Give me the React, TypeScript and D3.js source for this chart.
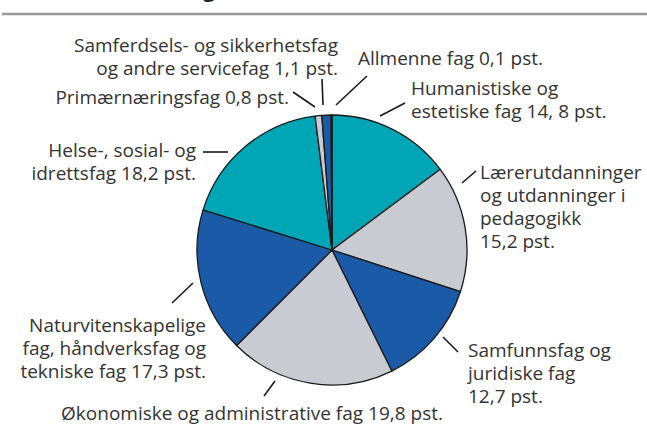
import React from "react";
import * as d3 from "d3";

const categories = [
  "Humanistiske og estetiske fag",
  "Lærerutdanninger og utdanninger i pedagogikk",
  "Samfunnsfag og juridiske fag",
  "Økonomiske og administrative fag",
  "Naturvitenskapelige fag, håndverksfag og tekniske fag",
  "Helse-, sosial- og idrettsfag",
  "Primærnæringsfag",
  "Samferdsels- og sikkerhetsfag og andre servicefag",
  "Allmenne fag",
];
const values = [14.8, 15.2, 12.7, 19.8, 17.3, 18.2, 0.8, 1.1, 0.1];
const colorKeys = ["teal", "grey", "blue", "grey", "blue", "teal", "grey", "blue", "teal"];
const labelLines = [
  ["Humanistiske og", "estetiske fag 14, 8 pst."],
  ["Lærerutdanninger", "og utdanninger i", "pedagogikk", "15,2 pst."],
  ["Samfunnsfag og", "juridiske fag", "12,7 pst."],
  ["Økonomiske og administrative fag 19,8 pst."],
  ["Naturvitenskapelige", "fag, håndverksfag og", "tekniske fag 17,3 pst."],
  ["Helse-, sosial- og", "idrettsfag 18,2 pst."],
  ["Primærnæringsfag 0,8 pst."],
  ["Samferdsels- og sikkerhetsfag", "og andre servicefag 1,1 pst."],
  ["Allmenne fag 0,1 pst."],
];

const palette: Record<string, string> = {
  teal: "#00a6b6",
  grey: "#c9cbd2",
  blue: "#1a5aa6",
};

// layout: label anchor (x, baseline y, anchor) and leader line endpoints
const labelLayout: { x: number; y: number; anchor: "start" | "end" | "middle" }[] = [
  { x: 411, y: 95, anchor: "start" },
  { x: 480, y: 179, anchor: "start" },
  { x: 468, y: 357, anchor: "start" },
  { x: 252, y: 420, anchor: "middle" },
  { x: 206, y: 332, anchor: "end" },
  { x: 196, y: 157, anchor: "end" },
  { x: 289, y: 104, anchor: "end" },
  { x: 338, y: 52, anchor: "end" },
  { x: 358, y: 65, anchor: "start" },
];
const leaders: [number, number, number, number][] = [
  [380, 116, 405, 103],
  [462, 183, 476, 171],
  [443, 337, 458, 352],
  [275, 381, 264, 396],
  [193, 283, 172, 303],
  [203, 152, 228, 152],
  [293, 92, 315, 107],
  [322, 79, 323, 105],
  [367, 76, 336, 105],
];

const W = 647;
const H = 432;
const cx = 332;
const cy = 250;
const R = 135;
const lineH = 23;
const font = "'Open Sans', 'Noto Sans', sans-serif";

export default function App() {
  const pie = d3.pie<number>().sort(null).value((d) => d)(values);
  const arc = d3.arc<d3.PieArcDatum<number>>().innerRadius(0).outerRadius(R);
  return (
    <svg
      width={W}
      height={H}
      style={{ position: "absolute", left: 0, top: 0, background: "#fff" }}
      fontFamily={font}
    >
      <text x={8} y={-3} fontSize={21} fontWeight="bold" fill="#222">
        Studenter, etter fag
      </text>
      <line x1={2} x2={W} y1={14} y2={14} stroke="#9a9a9a" strokeWidth={2.5} />
      <g transform={`translate(${cx},${cy})`}>
        {pie.map((p, i) => (
          <path
            key={categories[i]}
            d={arc(p) || ""}
            fill={palette[colorKeys[i]]}
            stroke="#1a1a1a"
            strokeWidth={1.3}
            strokeLinejoin="round"
          />
        ))}
      </g>
      {leaders.map((l, i) => (
        <line key={i} x1={l[0]} y1={l[1]} x2={l[2]} y2={l[3]} stroke="#1a1a1a" strokeWidth={1.6} />
      ))}
      {labelLines.map((lines, i) => (
        <text
          key={i}
          x={labelLayout[i].x}
          y={labelLayout[i].y}
          textAnchor={labelLayout[i].anchor}
          fontSize={19}
          fill="#333"
        >
          {lines.map((t, j) => (
            <tspan key={j} x={labelLayout[i].x} dy={j === 0 ? 0 : lineH}>
              {t}
            </tspan>
          ))}
        </text>
      ))}
    </svg>
  );
}
